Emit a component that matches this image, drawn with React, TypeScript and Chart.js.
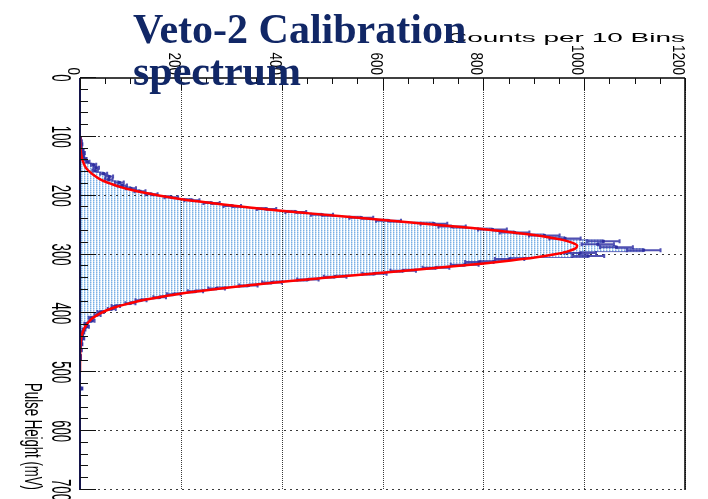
import { useEffect, useRef } from "react";
import { Chart, registerables } from "chart.js";

Chart.register(...registerables);

// ---- text ----
const TITLE_LINES = ["Veto-2 Calibration", "spectrum"];
const X_TITLE = "Counts per 10 Bins";
const Y_TITLE = "Pulse Height (mV)";

// ---- histogram: 5 mV bins starting at 100 mV ----
const BIN_LOW = 100;
const BIN_WIDTH = 5;
const counts = [
  1, 2, 3, 2, 5, 7, 6, 10, 15, 27,
  32, 30, 47, 58, 57, 78, 84, 101, 119, 142,
  181, 222, 261, 302, 370, 428, 480, 558, 612, 702,
  738, 818, 862, 921, 962, 1038, 1027, 1064, 1118, 992,
  1008, 852, 792, 763, 706, 641, 584, 506, 452, 381,
  334, 271, 229, 186, 158, 121, 100, 71, 63, 41,
  35, 22, 24, 12, 14, 8, 6, 4, 6, 2,
  3, 1, 2, 0, 1, 1, 0, 0, 0, 0,
  0, 0, 0, 0, 0, 3,
];

// ---- fitted curve, sampled along pulse height ----
const fitPulseHeight = [
  100, 110, 120, 130, 140,
  145, 150, 155, 160, 165, 170, 175, 180, 185, 190,
  195, 200, 205, 210, 215, 220, 225, 230, 235, 240,
  245, 250, 255, 260, 265, 270, 275, 280, 285, 290,
  295, 300, 305, 310, 315, 320, 325, 330, 335, 340,
  345, 350, 355, 360, 365, 370, 375, 380, 385, 390,
  395, 400, 405, 410,
  420, 430, 440, 450, 460,
  480, 500,
];
const fitCounts = [
  0.2, 0.5, 1.1, 2.4, 5.1,
  7.3, 10, 14, 20, 27, 36, 47, 62, 79, 101,
  128, 159, 195, 237, 284, 336, 393, 455, 519, 585,
  651, 716, 778, 834, 884, 926, 957, 977, 986, 982,
  966, 939, 902, 855, 801, 741, 677, 611, 545, 480,
  417, 359, 304, 255, 211, 173, 140, 111, 88, 68,
  52, 40, 30, 22,
  12, 6, 3, 1.3, 0.6,
  0.1, 0,
];

// ---- axes ----
const countTicks = [0, 200, 400, 600, 800, 1000, 1200];
const pulseTicks = [0, 100, 200, 300, 400, 500, 600, 700];
const COUNT_MINOR = 50;
const PULSE_MINOR = 20;

const W = 708;
const H = 499;

const binEdge = (i: number) => BIN_LOW + i * BIN_WIDTH;

function makeFillPattern(ctx: CanvasRenderingContext2D) {
  const c = document.createElement("canvas");
  c.width = 3;
  c.height = 2;
  const p = c.getContext("2d")!;
  p.fillStyle = "#ffffff";
  p.fillRect(0, 0, 3, 2);
  p.fillStyle = "#7cb0e4";
  p.fillRect(0, 0, 1, 1);
  p.fillStyle = "#b3d3f2";
  p.fillRect(0, 1, 1, 1);
  p.fillStyle = "#c4ddf5";
  p.fillRect(1, 0, 1, 1);
  p.fillStyle = "#eaf3fc";
  p.fillRect(1, 1, 1, 1);
  return ctx.createPattern(c, "repeat");
}

function drawGrid(chart: any) {
  const { ctx, chartArea: a } = chart;
  const xs = chart.scales.x;
  const ys = chart.scales.y;
  ctx.save();
  ctx.strokeStyle = "#3a3a3a";
  ctx.lineWidth = 1;
  ctx.setLineDash([1, 1]);
  countTicks.forEach((v) => {
    if (v === 0) return;
    const px = Math.round(xs.getPixelForValue(v)) + 0.5;
    ctx.beginPath();
    ctx.moveTo(px, a.top);
    ctx.lineTo(px, a.bottom);
    ctx.stroke();
  });
  ctx.setLineDash([2, 4]);
  pulseTicks.forEach((v) => {
    if (v === 0) return;
    const py = Math.round(ys.getPixelForValue(v)) - 0.5;
    ctx.beginPath();
    ctx.moveTo(a.left, py);
    ctx.lineTo(a.right, py);
    ctx.stroke();
  });
  ctx.restore();
}

function drawOutlineAndErrors(chart: any) {
  const { ctx } = chart;
  const xs = chart.scales.x;
  const ys = chart.scales.y;
  const x0 = xs.getPixelForValue(0);
  ctx.save();
  // step outline of the histogram
  ctx.strokeStyle = "rgba(55,60,170,0.75)";
  ctx.lineWidth = 1;
  ctx.beginPath();
  ctx.moveTo(x0, ys.getPixelForValue(0));
  ctx.lineTo(x0, ys.getPixelForValue(BIN_LOW));
  counts.forEach((c, i) => {
    const px = xs.getPixelForValue(c);
    ctx.lineTo(px, ys.getPixelForValue(binEdge(i)));
    ctx.lineTo(px, ys.getPixelForValue(binEdge(i + 1)));
  });
  ctx.lineTo(x0, ys.getPixelForValue(binEdge(counts.length)));
  ctx.lineTo(x0, ys.getPixelForValue(700));
  ctx.stroke();

  // statistical error bars with end caps and markers
  ctx.strokeStyle = "rgba(50,50,165,0.85)";
  ctx.fillStyle = "rgba(45,45,160,0.95)";
  ctx.lineWidth = 2;
  counts.forEach((c, i) => {
    if (c <= 0) return;
    const err = Math.sqrt(c);
    const py = ys.getPixelForValue(binEdge(i) + BIN_WIDTH / 2);
    const x1 = xs.getPixelForValue(Math.max(0, c - err));
    const x2 = xs.getPixelForValue(c + err);
    ctx.beginPath();
    ctx.moveTo(x1, py);
    ctx.lineTo(x2, py);
    ctx.moveTo(x1, py - 2);
    ctx.lineTo(x1, py + 2);
    ctx.moveTo(x2, py - 2);
    ctx.lineTo(x2, py + 2);
    ctx.stroke();
    const pm = xs.getPixelForValue(c);
    ctx.fillRect(pm - 1.5, py - 1.5, 3, 3);
  });
  ctx.restore();
}

function drawAxes(chart: any) {
  const { ctx, chartArea: a } = chart;
  const xs = chart.scales.x;
  const ys = chart.scales.y;
  ctx.save();
  ctx.setLineDash([]);
  // frame lines
  ctx.strokeStyle = "#000";
  ctx.lineWidth = 1.5;
  ctx.beginPath();
  ctx.moveTo(a.left, a.top);
  ctx.lineTo(a.right, a.top);
  ctx.stroke();
  ctx.beginPath();
  ctx.moveTo(a.right, a.top);
  ctx.lineTo(a.right, a.bottom);
  ctx.stroke();
  ctx.strokeStyle = "#14144a";
  ctx.lineWidth = 2;
  ctx.beginPath();
  ctx.moveTo(a.left, a.top);
  ctx.lineTo(a.left, a.bottom);
  ctx.stroke();

  // tick marks
  ctx.strokeStyle = "#111";
  ctx.lineWidth = 1;
  for (let v = 0; v <= countTicks[countTicks.length - 1]; v += COUNT_MINOR) {
    const len = v % 200 === 0 ? 12 : 6;
    const px = Math.round(xs.getPixelForValue(v)) + 0.5;
    ctx.beginPath();
    ctx.moveTo(px, a.top);
    ctx.lineTo(px, a.top + len);
    ctx.stroke();
  }
  for (let v = 0; v <= pulseTicks[pulseTicks.length - 1]; v += PULSE_MINOR) {
    const len = v % 100 === 0 ? 16 : 8;
    const py = Math.round(ys.getPixelForValue(v)) - 0.5;
    ctx.beginPath();
    ctx.moveTo(a.left, py);
    ctx.lineTo(a.left + len, py);
    ctx.stroke();
  }

  // tick labels, written along the vertical direction
  ctx.fillStyle = "#000";
  ctx.font = '13.5px "Liberation Sans", Arial, sans-serif';
  ctx.textBaseline = "alphabetic";
  countTicks.forEach((v) => {
    const px = xs.getPixelForValue(v);
    ctx.save();
    ctx.translate(px - 12, a.top - 3);
    ctx.rotate(Math.PI / 2);
    ctx.scale(1, 1.25);
    ctx.textAlign = "right";
    ctx.fillText(String(v), 0, 0);
    ctx.restore();
  });
  ctx.font = '13.2px "Liberation Sans", Arial, sans-serif';
  pulseTicks.forEach((v) => {
    const py = ys.getPixelForValue(v);
    ctx.save();
    ctx.translate(52, py);
    ctx.rotate(Math.PI / 2);
    ctx.scale(1, 2.1);
    ctx.textAlign = "center";
    ctx.fillText(String(v), 0, 0);
    ctx.restore();
  });

  // axis titles
  ctx.save();
  ctx.translate(25, a.bottom);
  ctx.rotate(Math.PI / 2);
  ctx.scale(1, 1.85);
  ctx.textAlign = "right";
  ctx.fillText(Y_TITLE, 0, 0);
  ctx.restore();

  ctx.save();
  ctx.font = '12.5px "Liberation Sans", Arial, sans-serif';
  const tw = ctx.measureText(X_TITLE).width;
  ctx.translate(a.right, 42);
  ctx.scale(238 / tw, 1);
  ctx.textAlign = "right";
  ctx.fillText(X_TITLE, 0, 0);
  ctx.restore();

  // plot title
  ctx.fillStyle = "#112766";
  ctx.font = 'bold 42px "Liberation Serif", "Times New Roman", serif';
  ctx.textAlign = "left";
  ctx.fillText(TITLE_LINES[0], 133, 43);
  ctx.fillText(TITLE_LINES[1], 133, 85);
  ctx.restore();
}

const decorPlugin = {
  id: "spectrumDecor",
  afterDatasetDraw(chart: any, args: any) {
    if (args.meta.type !== "bar") return;
    drawGrid(chart);
    drawOutlineAndErrors(chart);
  },
  afterDraw(chart: any) {
    drawAxes(chart);
  },
};

export default function App() {
  const canvasRef = useRef<HTMLCanvasElement | null>(null);

  useEffect(() => {
    const canvas = canvasRef.current;
    if (!canvas) return;
    const ctx = canvas.getContext("2d")!;
    const pattern = makeFillPattern(ctx);

    const histPoints = counts.map((c, i) => ({
      x: c,
      y: binEdge(i) + BIN_WIDTH / 2,
    }));
    const fitPoints = fitPulseHeight.map((h, i) => ({ x: fitCounts[i], y: h }));

    const chart = new Chart(ctx, {
      type: "bar",
      data: {
        datasets: [
          {
            type: "bar",
            label: "histogram",
            data: histPoints as any,
            backgroundColor: pattern as any,
            borderWidth: 0,
            barPercentage: 1,
            categoryPercentage: 1,
            order: 2,
          },
          {
            type: "line",
            label: "fit",
            data: fitPoints as any,
            borderColor: "#ff0000",
            borderWidth: 2.5,
            pointRadius: 0,
            cubicInterpolationMode: "monotone",
            fill: false,
            order: 1,
          } as any,
        ],
      },
      options: {
        indexAxis: "y",
        responsive: false,
        animation: false,
        devicePixelRatio: 1,
        events: [],
        layout: { padding: { left: 80, top: 78, right: W - 685, bottom: H - 490 } },
        scales: {
          x: { type: "linear", min: 0, max: 1200, offset: false, display: false },
          y: { type: "linear", min: 0, max: 700, reverse: true, offset: false, display: false },
        },
        plugins: {
          legend: { display: false },
          tooltip: { enabled: false },
          title: { display: false },
        },
      },
      plugins: [decorPlugin],
    });

    return () => chart.destroy();
  }, []);

  return (
    <div
      style={{
        position: "fixed",
        left: 0,
        top: 0,
        width: W,
        height: H,
        background: "#ffffff",
      }}
    >
      <canvas ref={canvasRef} width={W} height={H} style={{ width: W, height: H, display: "block" }} />
    </div>
  );
}
